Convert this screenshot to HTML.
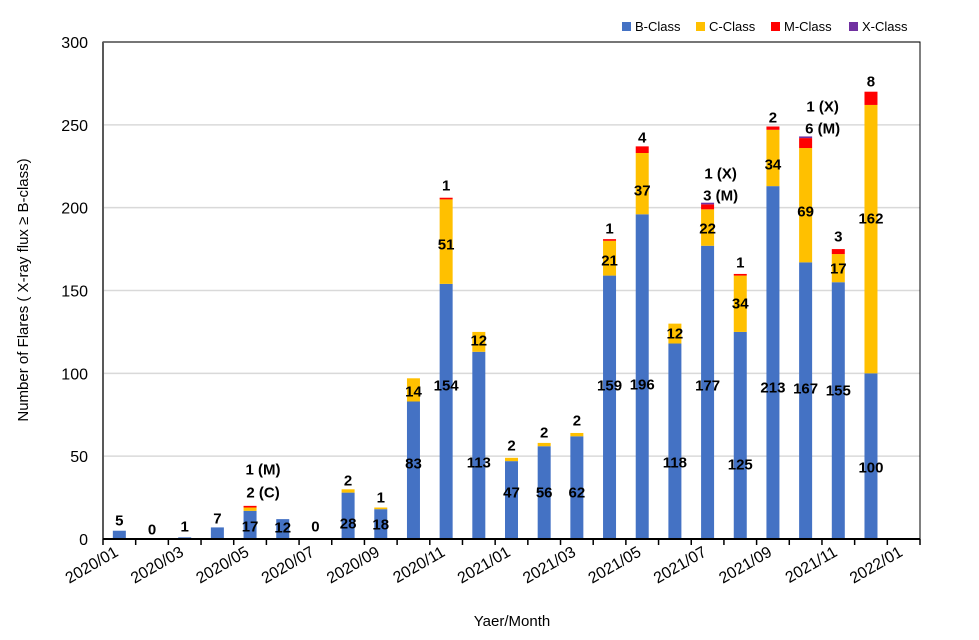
<!DOCTYPE html>
<html><head><meta charset="utf-8"><style>
body{margin:0;background:#fff}
svg{display:block;font-family:"Liberation Sans",sans-serif}
</style></head><body>
<svg id="chart" width="979" height="640">
<g id="grid"></g>
<g id="bars"></g>
<g id="axes"></g>
<g id="labels"></g>
<text x="28" y="290" transform="rotate(-90 28 290)" text-anchor="middle" font-size="15">Number of Flares ( X-ray flux ≥ B-class)</text>
<text x="512" y="626" text-anchor="middle" font-size="15">Yaer/Month</text>
<g font-size="13">
<g><rect x="622" y="22" width="9" height="9" fill="#4472c4"/><text x="635" y="31">B-Class</text></g>
<g><rect x="696" y="22" width="9" height="9" fill="#ffc000"/><text x="709" y="31">C-Class</text></g>
<g><rect x="771" y="22" width="9" height="9" fill="#ff0000"/><text x="784" y="31">M-Class</text></g>
<g><rect x="849" y="22" width="9" height="9" fill="#7030a0"/><text x="862" y="31">X-Class</text></g>
</g>
</svg>
<script>
const categories=["2020/01","2020/02","2020/03","2020/04","2020/05","2020/06","2020/07","2020/08","2020/09","2020/10","2020/11","2020/12","2021/01","2021/02","2021/03","2021/04","2021/05","2021/06","2021/07","2021/08","2021/09","2021/10","2021/11","2021/12"];
const bClass=[5,0,1,7,17,12,0,28,18,83,154,113,47,56,62,159,196,118,177,125,213,167,155,100];
const cClass=[0,0,0,0,2,0,0,2,1,14,51,12,2,2,2,21,37,12,22,34,34,69,17,162];
const mClass=[0,0,0,0,1,0,0,0,0,0,1,0,0,0,0,1,4,0,3,1,2,6,3,8];
const xClass=[0,0,0,0,0,0,0,0,0,0,0,0,0,0,0,0,0,0,1,0,0,1,0,0];
const yTicks=[0,50,100,150,200,250,300];
const xTickLabels=["2020/01","2020/03","2020/05","2020/07","2020/09","2020/11","2021/01","2021/03","2021/05","2021/07","2021/09","2021/11","2022/01"];
const NS="http://www.w3.org/2000/svg";
const L=103,R=920,T=42,B=539,step=(R-L)/25,bw=13;
const y=v=>B-(v/300)*(B-T);
const xc=i=>L+step*(i+0.5);
function mk(tag,attrs,parent,txt){const e=document.createElementNS(NS,tag);for(const k in attrs)e.setAttribute(k,attrs[k]);if(txt!==undefined)e.textContent=txt;parent.appendChild(e);return e;}
const grid=document.getElementById('grid'),bars=document.getElementById('bars'),axes=document.getElementById('axes'),labels=document.getElementById('labels');
yTicks.forEach(t=>{
 if(t>0){const g=mk('line',{x1:L,x2:R,y1:y(t),y2:y(t),stroke:'#d9d9d9','stroke-width':1.5},grid);
 
 }
 const tl=mk('text',{x:88,y:y(t)+6,'text-anchor':'end','font-size':16},axes,String(t));
 
 
});
mk('rect',{x:L,y:T,width:R-L,height:B-T,fill:'none',stroke:'#000','stroke-width':1},axes);
mk('line',{x1:L,x2:L,y1:T,y2:B,stroke:'#595959','stroke-width':2},axes);
mk('line',{x1:L,x2:R,y1:B,y2:B,stroke:'#000','stroke-width':2},axes);
for(let i=0;i<=25;i++){mk('line',{x1:L+step*i,x2:L+step*i,y1:B,y2:B+6,stroke:'#000','stroke-width':1.5},axes);}
xTickLabels.forEach((s,k)=>{const cx=xc(k*2);
 const t=mk('text',{x:cx,y:B+16,'text-anchor':'end','font-size':16,transform:`rotate(-30 ${cx} ${B+16})`},axes,s);
 
 
});
const series=[[bClass,'#4472c4','b'],[cClass,'#ffc000','c'],[mClass,'#ff0000','m'],[xClass,'#7030a0','x']];
categories.forEach((c,i)=>{let base=0;
 series.forEach(([arr,col,nm])=>{const v=arr[i];if(v<=0)return;
  const r=mk('rect',{x:xc(i)-bw/2,y:y(base+v),width:bw,height:y(base)-y(base+v),fill:col},bars);
  
  
  base+=v;});
});
// hand-placed value labels: [index, text, label centre y, x offset]
const labelSpec=[[0,'5',520,0],[1,'0',529,0],[2,'1',526,0],[3,'7',518,0],[4,'17',526,0],[4,'2 (C)',492,13],[4,'1 (M)',469,13],[5,'12',527,0],[6,'0',526,0],[7,'28',523,0],[7,'2',480,0],[8,'18',524,0],[8,'1',497,0],
[9,'83',463,0],[9,'14',391,0],[10,'154',385,0],[10,'51',244,0],[10,'1',185,0],[11,'113',462,0],[11,'12',340,0],[12,'47',492,0],[12,'2',445,0],[13,'56',492,0],[13,'2',432,0],[14,'62',492,0],[14,'2',420,0],
[15,'159',385,0],[15,'21',260,0],[15,'1',228,0],[16,'196',384,0],[16,'37',190,0],[16,'4',137,0],[17,'118',462,0],[17,'12',333,0],[18,'177',385,0],[18,'22',228,0],[18,'3 (M)',195,13],[18,'1 (X)',173,13],
[19,'125',464,0],[19,'34',303,0],[19,'1',262,0],[20,'213',387,0],[20,'34',164,0],[20,'2',117,0],[21,'167',388,0],[21,'69',211,0],[21,'6 (M)',128,17],[21,'1 (X)',106,17],[22,'155',390,0],[22,'17',268,0],[22,'3',236,0],[23,'100',467,0],[23,'162',218,0],[23,'8',81,0]];
labelSpec.forEach(([i,s,ly,dx])=>{
 const t=mk('text',{x:xc(i)+dx,y:ly+5.5,'text-anchor':'middle','font-size':15,'font-weight':'bold'},labels,s);
 
 
});
</script>
</body></html>
